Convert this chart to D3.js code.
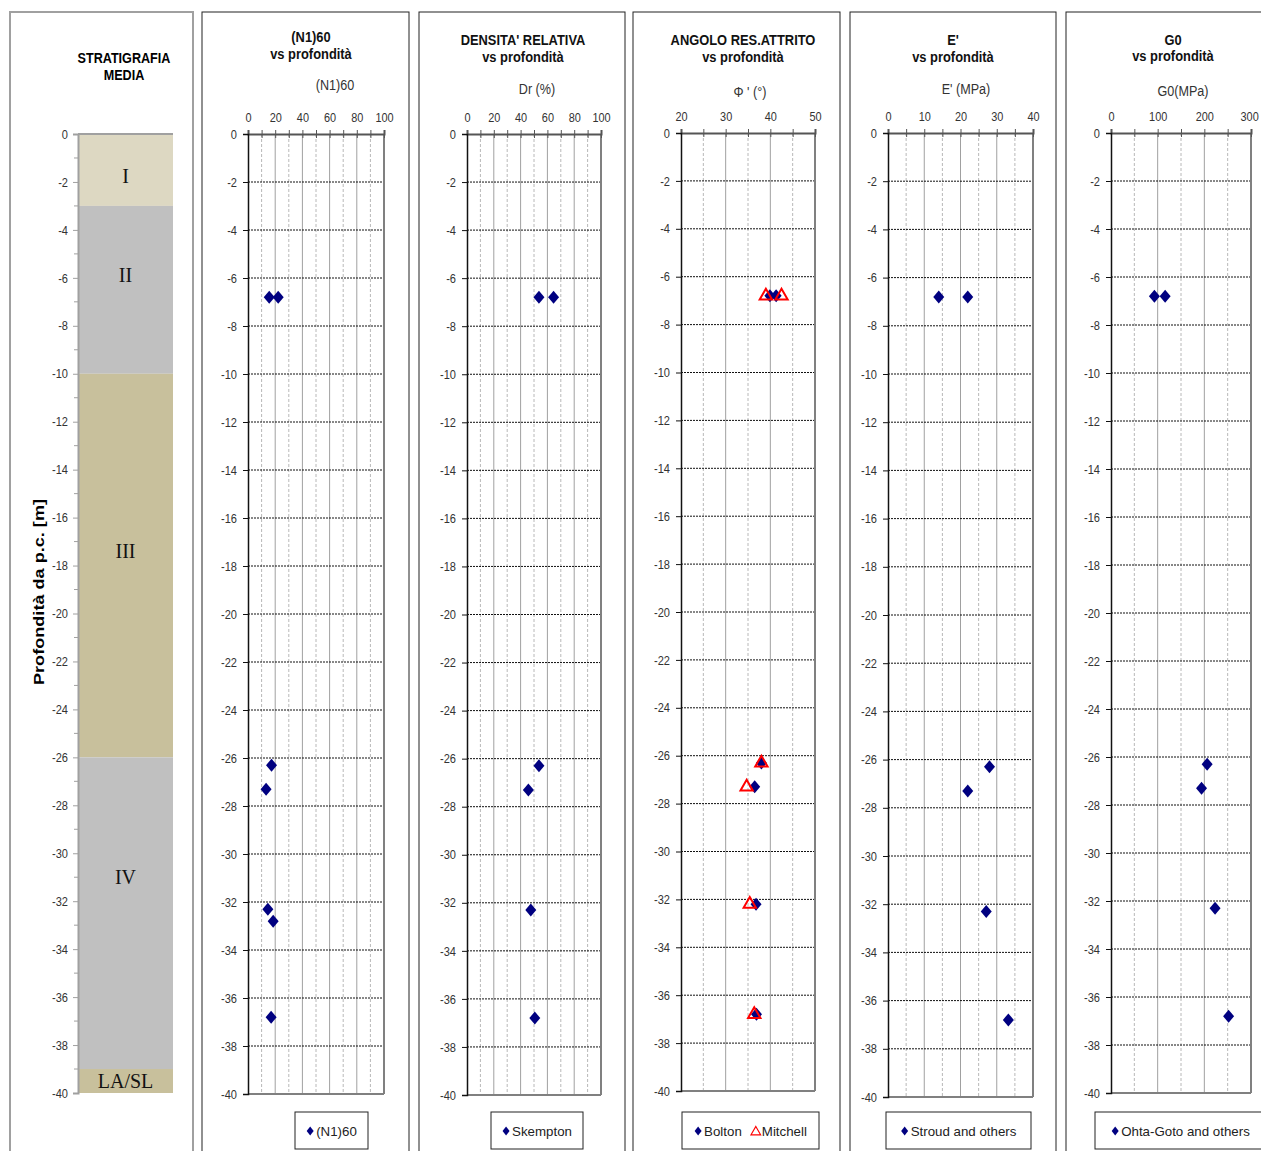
<!DOCTYPE html>
<html>
<head>
<meta charset="utf-8">
<script src="https://cdn.jsdelivr.net/npm/d3@7"></script>
<style>
  body { margin: 0; background: #fff; }
  svg { display: block; font-family: "Liberation Sans", Arial, sans-serif; }
</style>
</head>
<body>
<svg id="chart" width="1261" height="1151"></svg>
<script>
// ---- Stratigraphy ----
const layerNames = ["I", "II", "III", "IV", "LA/SL"];
const layerTop = [0, -3, -10, -26, -39];
const layerBottom = [-3, -10, -26, -39, -40];
const layerLabelDepth = [-1.75, -5.9, -17.4, -31, -39.5];
const layerColors = ["#ddd8c2", "#c0c0c0", "#c8c09c", "#c0c0c0", "#c8c09c"];

// ---- Depth axis ----
const depthTicks = d3.range(0, -41, -2);

// ---- (N1)60 ----
const n1Depth = [-6.8, -6.8, -26.3, -27.3, -32.3, -32.8, -36.8];
const n1Values = [15.6, 22.2, 17.3, 13.3, 14.6, 18.5, 17.0];
const n1Ticks = [0, 20, 40, 60, 80, 100];

// ---- Densità relativa ----
const drDepth = [-6.8, -6.8, -26.3, -27.3, -32.3, -36.8];
const drSkempton = [53.7, 64.6, 53.7, 45.8, 47.6, 50.6];
const drTicks = [0, 20, 40, 60, 80, 100];

// ---- Angolo di resistenza al taglio ----
const phiDepth = [-6.8, -6.8, -26.3, -27.3, -32.2, -36.8];
const phiBolton = [39.9, 41.3, 38.0, 36.5, 36.8, 36.9];
const phiMitchell = [39.0, 42.5, 38.0, 34.7, 35.4, 36.4];
const phiTicks = [20, 30, 40, 50];

// ---- E' ----
const eDepth = [-6.8, -6.8, -26.3, -27.3, -32.3, -36.8];
const eStroud = [14.0, 22.0, 28.0, 22.0, 27.1, 33.2];
const eTicks = [0, 10, 20, 30, 40];

// ---- G0 ----
const g0Depth = [-6.8, -6.8, -26.3, -27.3, -32.3, -36.8];
const g0Ohta = [93, 116, 206, 194, 223, 252];
const g0Ticks = [0, 100, 200, 300];

const svg = d3.select("#chart");
const W = 1261;
const NAVY = "#000080";
const BOX_TOP = 12, BOX_BOTTOM = 1160;
const fmt = d => String(d);   // plain hyphen for negative numbers

// Condense text horizontally (narrow sans look)
function squeeze(sel, k) {
  sel.each(function () {
    const w = this.getComputedTextLength();
    d3.select(this).attr("textLength", w * k).attr("lengthAdjust", "spacingAndGlyphs");
  });
  return sel;
}

// ---------- Stratigraphy column ----------
(function drawStrat() {
  const g = svg.append("g");
  g.append("rect").attr("x", 10).attr("y", BOX_TOP).attr("width", 183).attr("height", BOX_BOTTOM - BOX_TOP)
    .attr("fill", "#fff").attr("stroke", "#a0a0a0").attr("stroke-width", 2);
  const y = d3.scaleLinear().domain([0, -40]).range([134, 1093]);
  const x0 = 78, x1 = 173;
  squeeze(g.append("text").attr("x", 124).attr("y", 63).attr("text-anchor", "middle")
    .attr("font-weight", "bold").attr("font-size", 14).text("STRATIGRAFIA"), 0.9);
  squeeze(g.append("text").attr("x", 124).attr("y", 80).attr("text-anchor", "middle")
    .attr("font-weight", "bold").attr("font-size", 14).text("MEDIA"), 0.9);

  const layers = layerNames.map((n, i) => ({ n, top: layerTop[i], bot: layerBottom[i], lab: layerLabelDepth[i], c: layerColors[i] }));
  g.selectAll("rect.layer").data(layers).join("rect").attr("class", "layer")
    .attr("x", x0).attr("width", x1 - x0)
    .attr("y", d => y(d.top)).attr("height", d => y(d.bot) - y(d.top))
    .attr("fill", d => d.c);
  g.selectAll("text.layer").data(layers).join("text").attr("class", "layer")
    .attr("x", (x0 + x1) / 2).attr("y", d => y(d.lab)).attr("dy", "0.35em")
    .attr("text-anchor", "middle").attr("font-family", "'Liberation Serif','DejaVu Serif',serif")
    .attr("font-size", 20).attr("fill", "#111").text(d => d.n);
  g.append("line").attr("x1", x0).attr("x2", x1).attr("y1", y(0)).attr("y2", y(0))
    .attr("stroke", "#a0a0a0").attr("stroke-width", 2);
  const ax = g.append("g").attr("transform", `translate(${x0},0)`)
    .call(d3.axisLeft(y).tickValues(depthTicks).tickSize(5).tickPadding(5).tickFormat(fmt));
  ax.select(".domain").attr("stroke", "#a0a0a0").attr("stroke-width", 2);
  ax.selectAll(".tick line").attr("stroke", "#a0a0a0");
  squeeze(ax.selectAll(".tick text").attr("font-size", 13).attr("fill", "#333").attr("font-family", null), 0.85);
  g.selectAll("line.minor").data(d3.range(-1, -40, -2)).join("line").attr("class", "minor")
    .attr("x1", x0 - 4).attr("x2", x0).attr("y1", d => y(d)).attr("y2", d => y(d))
    .attr("stroke", "#a0a0a0");
  g.append("text").attr("transform", "translate(44,592) rotate(-90)")
    .attr("text-anchor", "middle").attr("font-weight", "bold").attr("font-size", 15)
    .attr("textLength", 186).attr("lengthAdjust", "spacingAndGlyphs")
    .text("Profondità da p.c. [m]");
})();

// ---------- Marker shapes ----------
function diamondPath(w, h) {
  return `M0,${-h / 2}L${w / 2},0L0,${h / 2}L${-w / 2},0Z`;
}
const triangleShape = d3.symbol().type(d3.symbolTriangle).size(66);

// ---------- Profile panels ----------
const panels = [
  {
    box: [202, 409], px: [248, 384], py: [134, 1094],
    title: ["(N1)60", "vs profondità"], titleX: 311, titleY: [42, 59],
    axisTitle: "(N1)60", axisTitleX: 335, axisTitleY: 90,
    domain: [0, 100], ticks: n1Ticks, gridStep: 10,
    series: [{ name: "(N1)60", depth: n1Depth, vals: n1Values, shape: "diamond" }],
    legend: [295, 368]
  },
  {
    box: [419, 625], px: [467, 601], py: [134, 1095],
    title: ["DENSITA' RELATIVA", "vs profondità"], titleX: 523, titleY: [45, 62],
    axisTitle: "Dr (%)", axisTitleX: 537, axisTitleY: 94,
    domain: [0, 100], ticks: drTicks, gridStep: 10,
    series: [{ name: "Skempton", depth: drDepth, vals: drSkempton, shape: "diamond" }],
    legend: [491, 583]
  },
  {
    box: [633, 840], px: [681, 815], py: [133, 1091],
    title: ["ANGOLO RES.ATTRITO", "vs profondità"], titleX: 743, titleY: [45, 62],
    axisTitle: "Φ ' (°)", axisTitleX: 750, axisTitleY: 97,
    domain: [20, 50], ticks: phiTicks, gridStep: 5,
    series: [
      { name: "Bolton", depth: phiDepth, vals: phiBolton, shape: "diamond" },
      { name: "Mitchell", depth: phiDepth, vals: phiMitchell, shape: "triangle" }
    ],
    legend: [682, 819]
  },
  {
    box: [850, 1056], px: [888, 1033], py: [133, 1097],
    title: ["E'", "vs profondità"], titleX: 953, titleY: [45, 62],
    axisTitle: "E' (MPa)", axisTitleX: 966, axisTitleY: 94,
    domain: [0, 40], ticks: eTicks, gridStep: 5,
    series: [{ name: "Stroud and others", depth: eDepth, vals: eStroud, shape: "diamond" }],
    legend: [886, 1031]
  },
  {
    box: [1066, 1275], px: [1111, 1251], py: [133, 1093],
    title: ["G0", "vs profondità"], titleX: 1173, titleY: [45, 61],
    axisTitle: "G0(MPa)", axisTitleX: 1183, axisTitleY: 96,
    domain: [0, 300], ticks: g0Ticks, gridStep: 50,
    series: [{ name: "Ohta-Goto and others", depth: g0Depth, vals: g0Ohta, shape: "diamond" }],
    legend: [1095, 1266]
  }
];

panels.forEach(p => {
  const g = svg.append("g");
  g.append("rect").attr("x", p.box[0]).attr("y", BOX_TOP)
    .attr("width", p.box[1] - p.box[0]).attr("height", BOX_BOTTOM - BOX_TOP)
    .attr("fill", "#fff").attr("stroke", "#222").attr("stroke-width", 1);

  const x = d3.scaleLinear().domain(p.domain).range(p.px);
  const y = d3.scaleLinear().domain([0, -40]).range(p.py);

  // titles
  p.title.forEach((t, i) => {
    squeeze(g.append("text").attr("x", p.titleX).attr("y", p.titleY[i]).attr("text-anchor", "middle")
      .attr("font-weight", "bold").attr("font-size", 14).attr("fill", "#111").text(t), 0.92);
  });
  squeeze(g.append("text").attr("x", p.axisTitleX).attr("y", p.axisTitleY).attr("text-anchor", "middle")
    .attr("font-size", 14).attr("fill", "#333").text(p.axisTitle), 0.9);

  // vertical grid: minor dashed, major solid
  const gridVals = d3.range(p.domain[0] + p.gridStep, p.domain[1], p.gridStep);
  g.selectAll("line.vg").data(gridVals).join("line").attr("class", "vg")
    .attr("x1", d => x(d)).attr("x2", d => x(d)).attr("y1", p.py[0]).attr("y2", p.py[1])
    .attr("stroke", d => p.ticks.includes(d) ? "#a0a0a0" : "#b8b8b8")
    .attr("stroke-width", 1)
    .attr("stroke-dasharray", d => p.ticks.includes(d) ? null : "3,2");

  // horizontal grid (dashed black) every 2 m
  g.selectAll("line.hg").data(depthTicks.filter(d => d !== 0 && d !== -40)).join("line").attr("class", "hg")
    .attr("x1", p.px[0]).attr("x2", p.px[1]).attr("y1", d => y(d)).attr("y2", d => y(d))
    .attr("stroke", "#111").attr("stroke-width", 1).attr("stroke-dasharray", "2,1");

  // plot frame: right / bottom gray
  g.append("line").attr("x1", p.px[1]).attr("x2", p.px[1]).attr("y1", p.py[0]).attr("y2", p.py[1])
    .attr("stroke", "#808080").attr("stroke-width", 2);
  g.append("line").attr("x1", p.px[0]).attr("x2", p.px[1]).attr("y1", p.py[1]).attr("y2", p.py[1])
    .attr("stroke", "#808080").attr("stroke-width", 2);

  // top value axis
  const allTicks = d3.range(p.domain[0], p.domain[1] + 1e-9, p.gridStep);
  const top = g.append("g").attr("transform", `translate(0,${p.py[0]})`)
    .call(d3.axisTop(x).tickValues(allTicks).tickSize(4).tickPadding(8)
      .tickFormat(d => p.ticks.includes(d) ? fmt(d) : ""));
  top.select(".domain").attr("stroke", "#555").attr("stroke-width", 2);
  top.selectAll(".tick line").attr("stroke", "#555").attr("y2", -4)
    .clone().attr("y2", 4);
  const topLabels = top.selectAll(".tick text").filter(function () { return this.textContent !== ""; })
    .attr("font-size", 13).attr("fill", "#333").attr("font-family", null);
  // keep the last label inside the page edge
  topLabels.each(function (d) {
    const half = this.getComputedTextLength() / 2;
    const over = x(d) + half - (W - 1);
    if (over > 0) d3.select(this).attr("x", -over);
  });
  squeeze(topLabels, 0.84);

  // left depth axis
  const left = g.append("g").attr("transform", `translate(${p.px[0]},0)`)
    .call(d3.axisLeft(y).tickValues(depthTicks).tickSize(5).tickPadding(6).tickFormat(fmt));
  left.select(".domain").attr("stroke", "#111").attr("stroke-width", 1.5);
  left.selectAll(".tick line").attr("stroke", "#111");
  squeeze(left.selectAll(".tick text").attr("font-size", 13).attr("fill", "#333").attr("font-family", null), 0.85);

  // markers
  p.series.forEach(s => {
    const pts = s.vals.map((v, i) => ({ v, d: s.depth[i] }));
    if (s.shape === "diamond") {
      g.selectAll(null).data(pts).join("path")
        .attr("d", diamondPath(11, 13))
        .attr("transform", d => `translate(${x(d.v)},${y(d.d)})`)
        .attr("fill", NAVY);
    } else {
      g.selectAll(null).data(pts).join("path")
        .attr("d", triangleShape)
        .attr("transform", d => `translate(${x(d.v)},${y(d.d)})`)
        .attr("fill", "none").attr("stroke", "#ff0000").attr("stroke-width", 2);
    }
  });

  // legend
  const lg = g.append("g");
  lg.append("rect").attr("x", p.legend[0]).attr("y", 1112)
    .attr("width", p.legend[1] - p.legend[0]).attr("height", 37)
    .attr("fill", "#fff").attr("stroke", "#222").attr("stroke-width", 1);
  const parts = [];
  let cursor = 0;
  p.series.forEach((s, i) => {
    if (i > 0) cursor += 10;
    const part = { s, sym: cursor };
    cursor += 10;
    const t = lg.append("text").attr("x", 0).attr("y", 1131).attr("dy", "0.35em")
      .attr("font-size", 13.3).attr("fill", "#222").text(s.name);
    const w = t.node().getComputedTextLength();
    part.text = t;
    part.tx = cursor;
    cursor += w;
    parts.push(part);
  });
  const startX = (p.legend[0] + p.legend[1]) / 2 - cursor / 2;
  parts.forEach(pt => {
    pt.text.attr("x", startX + pt.tx);
    if (pt.s.shape === "diamond") {
      lg.append("path").attr("d", diamondPath(7, 9))
        .attr("transform", `translate(${startX + pt.sym + 4},1131)`).attr("fill", NAVY);
    } else {
      lg.append("path").attr("d", d3.symbol().type(d3.symbolTriangle).size(40))
        .attr("transform", `translate(${startX + pt.sym + 4},1132)`)
        .attr("fill", "none").attr("stroke", "#ff0000").attr("stroke-width", 1.2);
    }
  });
});
</script>
</body>
</html>
